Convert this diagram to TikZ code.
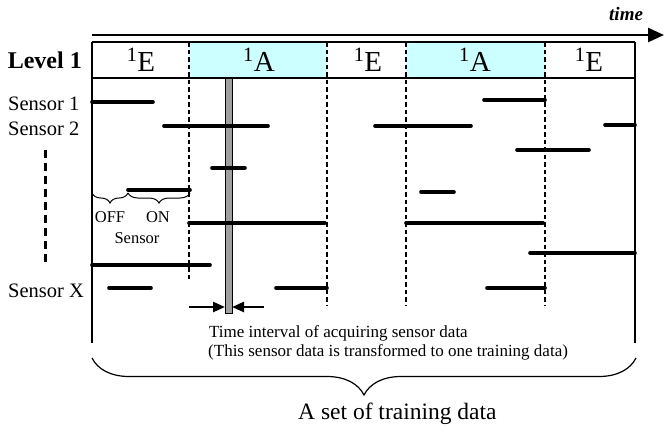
\documentclass[tikz,border=0pt]{standalone}
\usepackage{fontspec}
\setmainfont{Liberation Serif}
\usetikzlibrary{arrows.meta,decorations.pathreplacing}
\definecolor{lcyan}{HTML}{CCFFFF}
\definecolor{bargray}{HTML}{A0A0A0}
\begin{document}
\begin{tikzpicture}[x=1pt,y=-1pt,
  bar/.style={line width=3.6pt, line cap=round},
  divider/.style={line width=1.4pt, dash pattern=on 4.5pt off 3pt},
  frame/.style={line width=1.4pt},
  lbl/.style={font=\fontsize{20.5}{22}\selectfont, inner sep=0, anchor=base west},
  cell/.style={font=\fontsize{29}{30}\selectfont, inner sep=0, anchor=base},
  small/.style={font=\fontsize{16.5}{18}\selectfont, inner sep=0, anchor=base},
  note/.style={font=\fontsize{17}{19}\selectfont, inner sep=0, anchor=base west},
  tip/.style={-{Triangle[length=12pt,width=10pt]}, line width=2.4pt},
  brc/.style={decorate, line width=1pt},
]
\useasboundingbox (0,0) rectangle (664,432);
% cyan cells
\fill[lcyan] (189,42) rectangle (327,78);
\fill[lcyan] (406,42) rectangle (545,78);
% time arrow
\coordinate (tstart) at (92,35);
\coordinate (tend) at (664,35);
\draw[line width=2.6pt, -{Triangle[length=16pt,width=14pt]}] (tstart) -- (tend);
\node[font=\fontsize{19}{20}\selectfont\bfseries\itshape, inner sep=0, anchor=base west] (time) at (609,20) {time};
% frame
\draw[frame] (92,42) -- (635,42);
\draw[frame] (92,78) -- (635,78);
\draw[frame] (92,42) -- (92,343);
\draw[frame] (635,42) -- (635,343);
% dividers
\draw[divider] (189,42) -- (189,279);
\draw[divider] (327,42) -- (327,305);
\draw[divider] (406,42) -- (406,305);
\draw[divider] (545,42) -- (545,305);
% level labels
\node[font=\fontsize{24}{26}\selectfont\bfseries, inner sep=0, anchor=base east] (level) at (82,68) {Level 1};
\node[cell] (c1) at (141,71) {\textsuperscript{1}E};
\node[cell] (c2) at (259,71) {\textsuperscript{1}A};
\node[cell] (c3) at (368,71) {\textsuperscript{1}E};
\node[cell] (c4) at (475,71) {\textsuperscript{1}A};
\node[cell] (c5) at (589,71) {\textsuperscript{1}E};
% sensor labels
\node[lbl] (s1) at (8,110) {Sensor 1};
\node[lbl] (s2) at (8,135) {Sensor 2};
\node[lbl] (sx) at (8,297) {Sensor X};
\draw[line width=3pt, dash pattern=on 8pt off 5pt] (45,150) -- (45,263);
% gray bar
\draw[fill=bargray, line width=0.8pt] (225,78) rectangle (232,313);
% sensor bars
\draw[bar] (92,102) -- (153,102);
\draw[bar] (484,100) -- (545,100);
\draw[bar] (164,126) -- (268,126);
\draw[bar] (375,126) -- (471,126);
\draw[bar] (605,125) -- (635,125);
\draw[bar] (517,150) -- (589,150);
\draw[bar] (212,168) -- (245,168);
\draw[bar] (128,190) -- (190,190);
\draw[bar] (421,192) -- (454,192);
\draw[bar] (189,223) -- (325,223);
\draw[bar] (406,223) -- (543,223);
\draw[bar] (530,253) -- (635,253);
\draw[bar] (92,265) -- (210,265);
\draw[bar] (109,288) -- (151,288);
\draw[bar] (276,288) -- (327,288);
\draw[bar] (487,288) -- (545,288);
% small braces
\draw[brc, decoration={brace, mirror, amplitude=10pt}] (92,193) -- (128,193);
\draw[brc, decoration={brace, mirror, amplitude=10pt}] (128,193) -- (190,193);
\node[small] (off) at (110,222) {OFF};
\node[small] (on) at (158,222) {ON};
\node[small] (sens) at (137,243) {Sensor};
% interval arrows
\coordinate (la) at (189,307);
\coordinate (lb) at (225,307);
\coordinate (ra) at (264,307);
\coordinate (rb) at (232,307);
\draw[tip] (la) -- (lb);
\draw[tip] (ra) -- (rb);
\node[note] (t1) at (209,337) {Time interval of acquiring sensor data};
\node[note] (t2) at (208,356) {(This sensor data is transformed to one training data)};
% big brace
\draw[brc, line width=1.2pt, decoration={brace, mirror, amplitude=37pt}] (92,358) -- (636,358);
\node[font=\fontsize{23.5}{25}\selectfont, inner sep=0, anchor=base west] (set) at (298,419) {A set of training data};
\end{tikzpicture}
\end{document}
